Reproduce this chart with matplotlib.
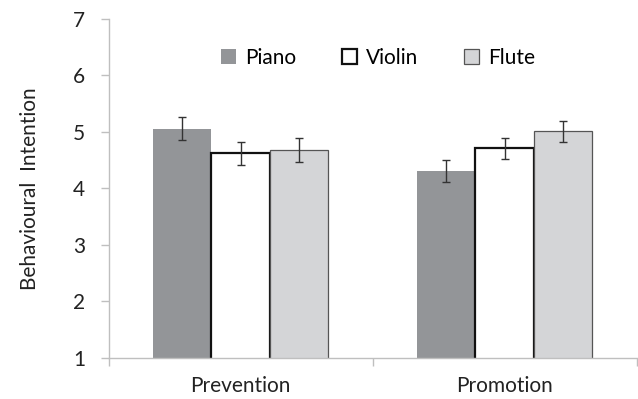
import matplotlib
matplotlib.use('Agg')
import matplotlib.pyplot as plt
import numpy as np
from matplotlib.patches import Patch

plt.rcParams['font.family'] = ['Lato', 'DejaVu Sans']

# данные
categories = ['Prevention', 'Promotion']
series = ['Piano', 'Violin', 'Flute']
piano = [5.06, 4.31]
violin = [4.62, 4.71]
flute = [4.68, 5.01]
piano_err = [0.20, 0.19]
violin_err = [0.20, 0.18]
flute_err = [0.21, 0.19]

fig = plt.figure(figsize=(6.38, 3.99), dpi=100)
ax = fig.add_axes([0.1704, 0.1028, 0.8276, 0.8496])

x = np.arange(len(categories))
w = 0.2216
grey = '#bfbfbf'
txt = '#222222'
fs = 15

ax.bar(x - w, piano, w, color='#939598', edgecolor='none')
ax.bar(x, violin, w, color='white', edgecolor='#111111', linewidth=1.6)
ax.bar(x + w, flute, w, color='#d4d5d7', edgecolor='#555555', linewidth=0.9)

for off, vals, errs in [(-w, piano, piano_err), (0, violin, violin_err), (w, flute, flute_err)]:
    ax.errorbar(x + off, vals, yerr=errs, fmt='none', ecolor='#333333',
                elinewidth=1, capsize=3, capthick=1)

ax.set_ylim(1, 7)
ax.set_xlim(-0.5, 1.5)
ax.set_yticks(range(1, 8))
ax.set_xticks(x)
ax.set_xticklabels(categories, fontsize=fs, color=txt)
ax.set_xticks([-0.5, 0.5, 1.5], minor=True)
ax.tick_params(axis='x', which='major', length=0, pad=13)
ax.tick_params(axis='x', which='minor', length=6, color=grey, width=1)
ax.tick_params(axis='y', length=6, color=grey, width=1, labelsize=fs,
               labelcolor=txt, pad=11)
ax.set_ylabel('Behavioural  Intention', fontsize=fs, color=txt, labelpad=24)

for s in ['top', 'right']:
    ax.spines[s].set_visible(False)
for s in ['left', 'bottom']:
    ax.spines[s].set_color(grey)
    ax.spines[s].set_linewidth(1)

handles = [Patch(facecolor='#939598', edgecolor='none'),
           Patch(facecolor='white', edgecolor='#111111', linewidth=1.6),
           Patch(facecolor='#d4d5d7', edgecolor='#555555', linewidth=0.9)]
ax.legend(handles, series, ncol=3, frameon=False, loc='upper center',
          bbox_to_anchor=(0.51, 0.97), fontsize=fs, handlelength=0.7,
          handleheight=0.7, handletextpad=0.45, columnspacing=2.2)

fig.savefig('out.png', dpi=100)
